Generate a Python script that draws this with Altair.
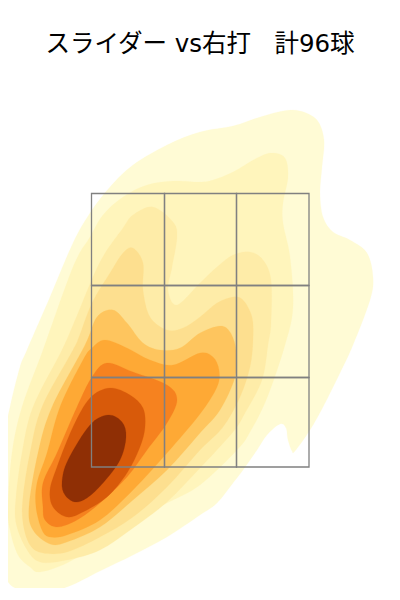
import altair as alt
import pandas as pd

TITLE = "スライダー vs右打\u00a0\u00a0\u00a0計96球"

LEVEL_COLORS = ["#FFFBD5", "#FFF5BC", "#FEECA8", "#FDDF8F", "#FEC55E", "#FEA935", "#F6821F", "#D85A0A", "#8F2F05"]

C1 = [(200,132),(167,145),(133,165),(110,187),(90,213),(73,243),(50,297),(27,350),(20,367),(10,407),(1,453),(-2,507),(0,560),(8,582),(20,590),(37,594),(67,587),(100,571),(133,555),(167,537),(200,515),(217,503),(233,483),(243,470),(257,450),(267,435),(280,424),(286,428),(288,440),(292,451),(295,451),(310,430),(323,407),(340,373),(353,345),(370,300),(373,277),(367,253),(350,240),(333,232),(323,217),(320,193),(322,167),(324,140),(317,120),(300,111),(283,111),(257,118),(233,126)]
C2 = [(200,182),(173,181),(147,185),(123,197),(103,215),(90,237),(73,267),(43,350),(22,407),(12,453),(8,507),(10,530),(18,555),(30,567),(40,572),(67,563),(100,543),(133,520),(167,503),(200,485),(237,450),(250,432),(267,398),(285,345),(293,307),(290,257),(283,223),(283,203),(288,177),(285,158),(272,153),(257,158),(233,172),(213,180)]
C3 = [(153,207),(173,222),(177,237),(172,267),(168,290),(177,305),(200,283),(217,267),(233,255),(250,252),(263,260),(271,280),(271,323),(268,345),(262,380),(245,413),(233,432),(200,468),(167,502),(133,528),(100,550),(67,560),(40,562),(26,548),(16,523),(16,497),(22,453),(33,407),(62,350),(76,318),(100,262),(123,228),(133,215)]
C4 = [(133,248),(123,253),(110,273),(92,303),(79,337),(73,350),(42,407),(30,453),(23,497),(23,523),(30,545),(43,553),(67,552),(100,537),(133,517),(167,487),(200,450),(223,427),(240,397),(250,367),(253,340),(252,317),(243,300),(233,297),(217,303),(200,317),(183,328),(167,330),(150,317),(143,290),(143,263)]
C5 = [(113,310),(97,317),(85,345),(52,407),(38,453),(29,507),(33,530),(50,544),(67,542),(100,527),(133,500),(167,470),(200,433),(220,410),(235,377),(236,350),(230,332),(220,326),(200,333),(180,348),(160,350),(143,343),(127,323)]
C6 = [(105,340),(92,348),(83,360),(60,407),(47,453),(37,483),(36,507),(42,530),(50,537),(67,535),(100,520),(133,490),(167,453),(200,414),(217,387),(219,370),(213,357),(200,353),(173,365),(150,360),(127,348)]
C7 = [(107,363),(133,372),(167,385),(177,400),(167,423),(147,450),(127,477),(100,503),(77,520),(57,527),(45,520),(43,507),(43,483),(57,453),(77,407),(92,377)]
C8 = [(110,388),(130,395),(143,408),(145,427),(140,447),(127,473),(107,497),(83,512),(67,517),(53,507),(50,490),(57,467),(73,427),(90,398)]
C9 = [(108,415),(122,422),(126,437),(120,460),(103,483),(87,498),(75,502),(65,495),(62,482),(68,460),(90,425)]
CONTOURS = [C1, C2, C3, C4, C5, C6, C7, C8, C9]

ZONE_X = [91.5, 164.5, 236.5, 309]
ZONE_Y = [193.5, 285.5, 377.5, 467]

x_scale = alt.Scale(domain=[8, 392], range=[0, 384], nice=False, zero=False)
y_scale = alt.Scale(domain=[90, 588], range=[0, 498], nice=False, zero=False)

layers = []
for pts, col in zip(CONTOURS, LEVEL_COLORS):
    df = pd.DataFrame({"x": [p[0] for p in pts], "y": [p[1] for p in pts], "i": range(len(pts))})
    layers.append(
        alt.Chart(df).mark_line(interpolate="cardinal-closed", fill=col, stroke=col, strokeWidth=0.2, clip=False).encode(
            x=alt.X("x:Q", scale=x_scale, axis=None),
            y=alt.Y("y:Q", scale=y_scale, axis=None),
            order="i:Q",
        )
    )

cells = pd.DataFrame(
    [{"x": ZONE_X[i], "x2": ZONE_X[i + 1], "y": ZONE_Y[j], "y2": ZONE_Y[j + 1]} for i in range(3) for j in range(3)]
)
grid = alt.Chart(cells).mark_rect(fillOpacity=0, stroke="#808080", strokeWidth=1.3).encode(
    x=alt.X("x:Q", scale=x_scale, axis=None),
    x2="x2:Q",
    y=alt.Y("y:Q", scale=y_scale, axis=None),
    y2="y2:Q",
)

chart = alt.layer(*layers, grid).properties(
    width=384,
    height=498,
    padding={"left": 0, "top": 82, "right": 0, "bottom": 0},
    autosize=alt.AutoSizeParams(type="none"),
    title=alt.TitleParams(
        TITLE, anchor="middle", offset=33, fontSize=24.5, fontWeight="normal",
        font="DejaVu Sans, Noto Sans CJK JP", color="#000000",
    ),
).configure_view(strokeWidth=0)

chart.save("out.html", embed_options={"renderer": "svg", "actions": False})
